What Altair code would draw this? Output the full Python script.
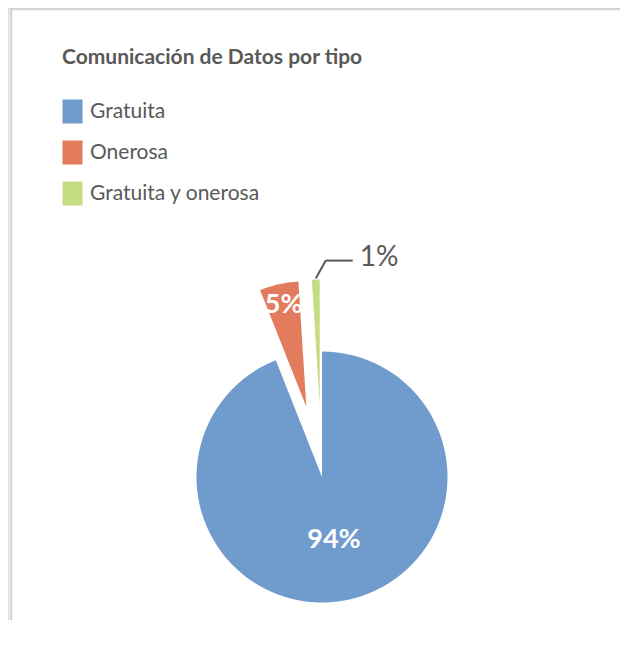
import altair as alt
import pandas as pd

# ---- data ----
categorias = ["Gratuita", "Onerosa", "Gratuita y onerosa"]
valores = [94, 5, 1]
etiquetas = ["94%", "5%", "1%"]
colores = ["#709BCD", "#E27C5C", "#C6DC82"]
titulo = "Comunicación de Datos por tipo"

df = pd.DataFrame({
    "tipo": categorias,
    "valor": valores,
    "etiqueta": etiquetas,
    "i": list(range(len(categorias))),
})

# ---- geometry (pixels) ----
CX, CY, R, EXPL = 314, 469, 125.5, 72
FONT = "Lato"
GRAY = "#595959"

base = (
    alt.Chart(df)
    .transform_joinaggregate(total="sum(valor)")
    .transform_window(cum="sum(valor)", sort=[alt.SortField("i")], frame=[None, 0])
    .transform_calculate(t0="(datum.cum - datum.valor) / datum.total * 2 * PI")
    .transform_calculate(t1="datum.cum / datum.total * 2 * PI")
    .transform_calculate(mid="(datum.t0 + datum.t1) / 2")
    .transform_calculate(d=f"datum.i == 0 ? 0 : {EXPL}")
    .transform_calculate(cx=f"{CX} + datum.d * sin(datum.mid)")
    .transform_calculate(cy=f"{CY} - datum.d * cos(datum.mid)")
)

arcs = base.mark_arc(outerRadius=R).encode(
    theta=alt.Theta("t0:Q", scale=None),
    theta2="t1:Q",
    x=alt.X("cx:Q", scale=None),
    y=alt.Y("cy:Q", scale=None),
    color=alt.Color(
        "tipo:N",
        scale=alt.Scale(domain=categorias, range=colores),
        legend=alt.Legend(
            title=titulo,
            orient="none",
            legendX=54,
            legendY=39,
            direction="vertical",
            padding=0,
            titleFont=FONT,
            titleFontSize=21,
            titleFontWeight="bold",
            titleColor=GRAY,
            titleLimit=600,
            titlePadding=33,
            labelFont=FONT,
            labelFontSize=21,
            labelColor=GRAY,
            labelLimit=600,
            labelOffset=7,
            symbolType="M-1,-1.2H1V1.2H-1Z",
            symbolSize=400,
            symbolStrokeWidth=0,
            symbolOpacity=1,
            rowPadding=16,
        ),
    ),
)

inner = (
    base.transform_filter("datum.valor >= 3")
    .transform_calculate(rl="datum.i == 0 ? 64 : 104")
    .transform_calculate(lx="datum.cx + datum.rl * sin(datum.mid)")
    .transform_calculate(ly="datum.cy - datum.rl * cos(datum.mid)")
    .mark_text(color="white", fontSize=27, font=FONT, fontWeight="bold", baseline="middle", align="center")
    .encode(x=alt.X("lx:Q", scale=None), y=alt.Y("ly:Q", scale=None), text="etiqueta:N")
)

outer = (
    base.transform_filter("datum.valor < 3")
    .transform_calculate(x0=f"datum.cx + {R + 1} * sin(datum.mid)")
    .transform_calculate(y0=f"datum.cy - {R + 1} * cos(datum.mid)")
    .transform_calculate(x1="datum.x0 + 10")
    .transform_calculate(y1="datum.y0 - 18")
    .transform_calculate(x2="datum.x1 + 27")
    .transform_calculate(y2="datum.y1")
)

leader1 = outer.mark_rule(color=GRAY, strokeWidth=2).encode(
    x=alt.X("x0:Q", scale=None), y=alt.Y("y0:Q", scale=None), x2="x1:Q", y2="y1:Q"
)
leader2 = outer.mark_rule(color=GRAY, strokeWidth=2).encode(
    x=alt.X("x1:Q", scale=None), y=alt.Y("y1:Q", scale=None), x2="x2:Q", y2="y2:Q"
)
outer_text = outer.mark_text(
    color=GRAY, fontSize=28, font=FONT, align="left", baseline="middle", dx=7, dy=-3
).encode(x=alt.X("x2:Q", scale=None), y=alt.Y("y2:Q", scale=None), text="etiqueta:N")

border = alt.Chart(alt.Data(values=[{}]))
left_line = border.mark_rule(color="#d4d4d4", strokeWidth=2.5).encode(
    x=alt.value(3), y=alt.value(0), y2=alt.value(612)
)
top_line = border.mark_rule(color="#d4d4d4", strokeWidth=2.5).encode(
    y=alt.value(1), x=alt.value(1.75), x2=alt.value(612)
)

chart = (
    alt.layer(left_line, top_line, arcs, inner, leader1, leader2, outer_text)
    .properties(width=612, height=612, autosize=alt.AutoSizeParams(type="none"), padding=0)
    .configure_view(stroke=None)
    .configure(background="white")
)

chart.save("out.html", embed_options={"renderer": "svg", "actions": False})
